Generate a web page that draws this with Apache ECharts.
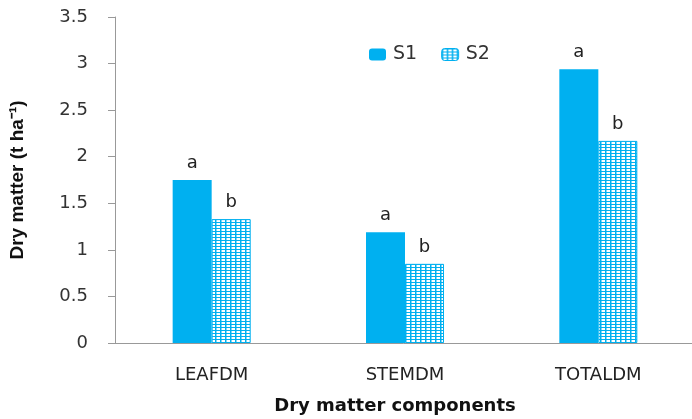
<!DOCTYPE html>
<html>
<head>
<meta charset="utf-8">
<script src="https://cdn.jsdelivr.net/npm/echarts@6/dist/echarts.min.js"></script>
<style>
  html, body { margin: 0; padding: 0; background: #fff; }
  #chart { width: 692px; height: 419px; }
</style>
</head>
<body>
<div id="chart"></div>
<script>
    // data
    const categories = ['LEAFDM', 'STEMDM', 'TOTALDM']
    const s1Values = [1.75, 1.19, 2.94]
    const s2Values = [1.33, 0.85, 2.17]
    const s1Letters = ['a', 'a', 'a']
    const s2Letters = ['b', 'b', 'b']

    const blue = '#00b0f0'
    const font = 'DejaVu Sans'

    // grid hatch for S2
    const makeHatch = function () {
        let c = document.createElement('canvas')
        c.width = 5
        c.height = 3
        let ctx = c.getContext('2d')
        ctx.fillStyle = '#ffffff'
        ctx.fillRect(0, 0, 5, 3)
        ctx.fillStyle = blue
        ctx.fillRect(0, 0, 1.5, 3)
        ctx.fillRect(0, 0, 5, 1)
        return { image: c, repeat: 'repeat' }
    }
    const hatch = makeHatch()

    const letterLabel = function (letters) {
        return {
            show: true,
            position: 'top',
            distance: 8,
            color: '#222',
            fontFamily: font,
            fontSize: 18,
            formatter: function (e) { return letters[e.dataIndex] }
        }
    }

    const option = {
        animation: false,
        backgroundColor: '#fff',
        legend: {
            top: 40,
            left: 364,
            itemWidth: 17,
            itemHeight: 12,
            itemGap: 24,
            textStyle: { fontFamily: font, fontSize: 19, color: '#333', padding: [0, 0, 0, 2] },
            data: [
                { name: 'S1', itemStyle: { color: blue } },
                { name: 'S2', itemStyle: { color: hatch, borderColor: blue, borderWidth: 1 } }
            ]
        },
        grid: { left: 115, right: -3, top: 17, bottom: 76, outerBoundsMode: 'none' },
        xAxis: {
            type: 'category',
            data: categories,
            axisLine: { lineStyle: { color: '#999', width: 1 } },
            axisTick: { show: false },
            axisLabel: { fontFamily: font, fontSize: 18, color: '#222', margin: 23 },
            name: 'Dry matter components',
            nameLocation: 'middle',
            nameGap: 54,
            nameTextStyle: { fontFamily: font, fontSize: 18, fontWeight: 'bold', color: '#111', padding: [0, 0, 0, -20] }
        },
        yAxis: {
            type: 'value',
            min: 0,
            max: 3.5,
            interval: 0.5,
            splitLine: { show: false },
            axisLine: { show: true, lineStyle: { color: '#999', width: 1 } },
            axisTick: { show: true, length: 7, lineStyle: { color: '#999' } },
            axisLabel: { fontFamily: font, fontSize: 18, color: '#333', margin: 27 },
            name: 'Dry matter (t ha\u207B\u00B9)',
            nameLocation: 'middle',
            nameGap: 88,
            nameRotate: 90,
            nameTextStyle: { fontFamily: 'Liberation Sans', fontSize: 19, fontWeight: 'bold', color: '#111' }
        },
        series: [
            {
                name: 'S1',
                type: 'bar',
                data: s1Values,
                barWidth: 39,
                barGap: '0%',
                itemStyle: { color: blue },
                label: letterLabel(s1Letters)
            },
            {
                name: 'S2',
                type: 'bar',
                data: s2Values,
                barWidth: 39,
                itemStyle: { color: hatch, borderColor: blue, borderWidth: 1 },
                label: letterLabel(s2Letters)
            }
        ]
    }

    let chart = echarts.init(document.getElementById('chart'))
    chart.setOption(option)
</script>
</body>
</html>
